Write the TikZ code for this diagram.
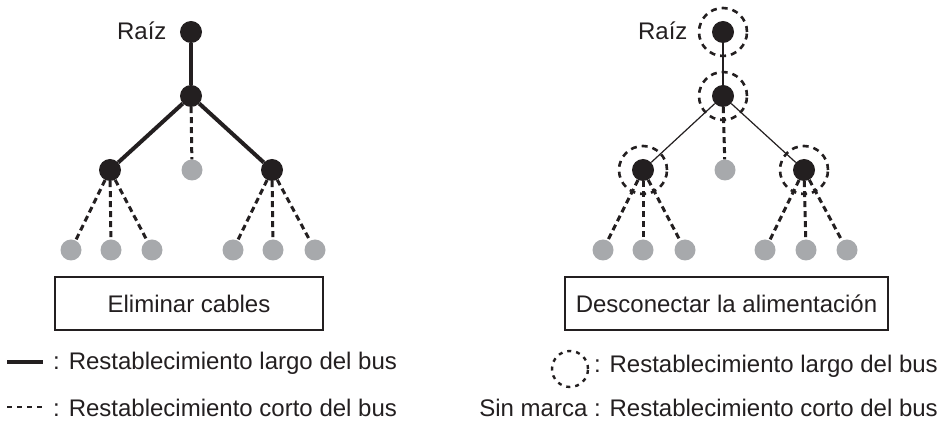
\documentclass[tikz,border=0pt]{standalone}
\usepackage{fontspec}
\setmainfont{Liberation Sans}
\definecolor{nblack}{HTML}{231F20}
\definecolor{ngray}{HTML}{A7A9AC}
\begin{document}
\begin{tikzpicture}[x=1pt,y=-1pt,
  font=\fontsize{24}{28}\selectfont, text=nblack,
  bn/.style={circle,fill=nblack,minimum size=22pt,inner sep=0pt},
  gn/.style={circle,fill=ngray,minimum size=21pt,inner sep=0pt},
  ring/.style={circle,draw=nblack,line width=2.6pt,dash pattern=on 6pt off 5pt,minimum size=48pt,inner sep=0pt},
  longbus/.style={draw=nblack,line width=4pt},
  thinbus/.style={draw=nblack,line width=1.2pt},
  shortbus/.style={draw=nblack,line width=3pt,dash pattern=on 6pt off 4pt},
  labelbox/.style={draw=nblack,line width=1.2pt,minimum height=53pt,inner sep=0pt},
  legtext/.style={inner sep=0pt}
]
\useasboundingbox (0,0) rectangle (943,427);

% ---------- left tree ----------
\node[bn] (r1) at (191,32) {};
\node[bn] (m1) at (191,96) {};
\node[bn] (a1) at (110,170) {};
\node[bn] (b1) at (272,170) {};
\node[gn] (c1) at (192,170) {};
\node[gn] (p1) at (71,250) {};
\node[gn] (p2) at (111,250) {};
\node[gn] (p3) at (152,250) {};
\node[gn] (p4) at (233,250) {};
\node[gn] (p5) at (273,250) {};
\node[gn] (p6) at (315,250) {};
\node[anchor=east] (t1) at (170,31) {Raíz};
\draw[longbus] (r1) -- (m1);
\draw[longbus] (m1) -- (a1);
\draw[longbus] (m1) -- (b1);
\draw[shortbus] (m1) -- (c1);
\draw[shortbus] (a1) -- (p1);
\draw[shortbus] (a1) -- (p2);
\draw[shortbus] (a1) -- (p3);
\draw[shortbus] (b1) -- (p4);
\draw[shortbus] (b1) -- (p5);
\draw[shortbus] (b1) -- (p6);
\node[labelbox,minimum width=268pt] (e1) at (189,303.5) {Eliminar cables};

% ---------- right tree ----------
\node[bn] (r2) at (723,32) {};
\node[bn] (m2) at (723,96) {};
\node[bn] (a2) at (643,170) {};
\node[bn] (b2) at (804,170) {};
\node[gn] (c2) at (725,170) {};
\node[gn] (q1) at (603,250) {};
\node[gn] (q2) at (643,250) {};
\node[gn] (q3) at (685,250) {};
\node[gn] (q4) at (765,250) {};
\node[gn] (q5) at (806,250) {};
\node[gn] (q6) at (847,250) {};
\node[anchor=east] (t2) at (691,31) {Raíz};
\draw[thinbus] (r2) -- (m2);
\draw[thinbus] (m2) -- (a2);
\draw[thinbus] (m2) -- (b2);
\draw[shortbus] (m2) -- (c2);
\draw[shortbus] (a2) -- (q1);
\draw[shortbus] (a2) -- (q2);
\draw[shortbus] (a2) -- (q3);
\draw[shortbus] (b2) -- (q4);
\draw[shortbus] (b2) -- (q5);
\draw[shortbus] (b2) -- (q6);
\node[ring] (g1) at (r2) {};
\node[ring] (g2) at (m2) {};
\node[ring] (g3) at (a2) {};
\node[ring] (g4) at (b2) {};
\node[labelbox,minimum width=323pt] (e2) at (726.5,303.5) {Desconectar la alimentación};

% ---------- legends ----------
\coordinate (ls1) at (7,362);
\coordinate (le1) at (43,362);
\draw[longbus] (ls1) -- (le1);
\node[legtext,anchor=west] (lt1) at (53,363) {: Restablecimiento largo del bus};
\coordinate (ls2) at (7,407);
\coordinate (le2) at (43,407);
\draw[draw=nblack,line width=2.4pt,dash pattern=on 5pt off 5pt] (ls2) -- (le2);
\node[legtext,anchor=west] (lt2) at (53,408) {: Restablecimiento corto del bus};

\node[circle,draw=nblack,line width=2.4pt,dash pattern=on 4pt off 5pt,minimum size=36pt,inner sep=0pt] (lg) at (570,369) {};
\node[legtext,anchor=east] (rt1) at (938,366) {: Restablecimiento largo del bus};
\node[legtext,anchor=east] (rt2) at (938,408) {Sin marca : Restablecimiento corto del bus};
\end{tikzpicture}
\end{document}
